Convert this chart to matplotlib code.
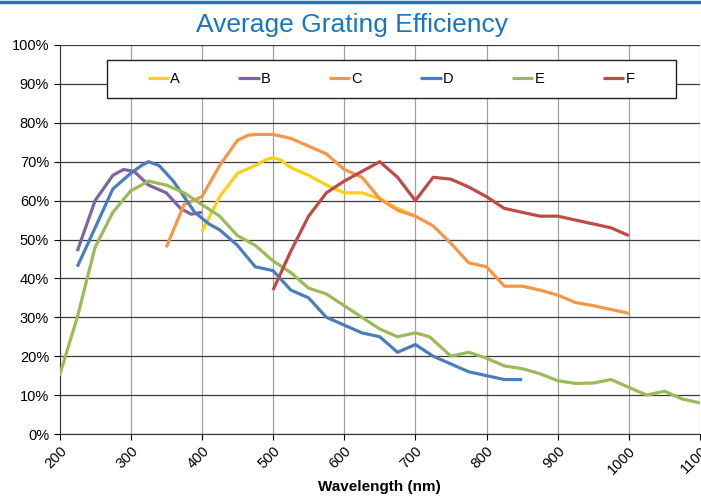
import matplotlib
matplotlib.use("Agg")
import matplotlib.pyplot as plt
from matplotlib.patches import Rectangle
from matplotlib.lines import Line2D
from matplotlib.ticker import FuncFormatter

# ---- data ----
wl_A = [400, 425, 450, 475, 490, 500, 510, 525, 550, 575, 600, 625, 650, 675, 700]
ef_A = [52, 61, 67, 69, 70.5, 71, 70.5, 68.5, 66.5, 64, 62, 62, 60.5, 58, 56]

wl_B = [225, 250, 275, 290, 305, 325, 350, 370, 385, 400]
ef_B = [47, 60, 66.5, 68, 67.5, 64, 62, 58, 56.5, 57]

wl_C = [350, 375, 400, 425, 450, 465, 475, 500, 525, 550, 575, 600, 625, 650, 675, 700,
        725, 750, 775, 800, 825, 850, 875, 900, 925, 950, 975, 1000]
ef_C = [48, 59, 61, 69, 75.5, 76.8, 77, 77, 76, 74, 72, 68, 66, 60.5, 57.5, 56,
        53.5, 49, 44, 43, 38, 38, 37, 35.7, 33.8, 33, 32, 31]

wl_D = [225, 250, 275, 300, 315, 325, 340, 360, 375, 390, 410, 425, 450, 475, 500, 525,
        550, 575, 600, 625, 650, 675, 700, 725, 750, 775, 800, 825, 850]
ef_D = [43, 53, 63, 67, 69, 70, 69, 65, 61, 57, 54, 52.5, 48.5, 43, 42, 37,
        35, 30, 28, 26, 25, 21, 23, 20, 18, 16, 15, 14, 14]

wl_E = [200, 225, 250, 275, 300, 325, 350, 375, 400, 425, 450, 475, 500, 525, 550,
        575, 600, 625, 650, 675, 700, 720, 750, 775, 800, 825, 850, 875, 900, 925,
        950, 975, 1000, 1025, 1050, 1075, 1100]
ef_E = [15, 30, 48, 57, 62.5, 65, 64, 62, 59, 56, 51, 48.5, 44.5, 41.5, 37.5,
        36, 33, 30, 27, 25, 26, 25, 20, 21, 19.5, 17.5, 16.8, 15.5, 13.7, 13,
        13.1, 14, 12, 10, 11, 9, 8]

wl_F = [500, 525, 550, 575, 600, 625, 650, 675, 700, 725, 750, 775, 800, 825, 850,
        875, 900, 925, 950, 975, 1000]
ef_F = [37, 47, 56, 62, 65, 67.5, 70, 66, 60, 66, 65.5, 63.5, 61, 58, 57,
        56, 56, 55, 54, 53, 51]

series_names = ["A", "B", "C", "D", "E", "F"]
x_ticks = [200, 300, 400, 500, 600, 700, 800, 900, 1000, 1100]
y_ticks = [0, 10, 20, 30, 40, 50, 60, 70, 80, 90, 100]

colors = ["#F7D117", "#8064A2", "#F79646", "#4A7EBB", "#9BBB59", "#BE4B48"]

plt.rcParams['font.family'] = ['Liberation Sans', 'DejaVu Sans']

fig = plt.figure(figsize=(7.01, 5.0), dpi=100)
ax = fig.add_axes([59.5/701, 66/500, 640.5/701, 389/500])

data = [(wl_A, ef_A), (wl_B, ef_B), (wl_C, ef_C), (wl_D, ef_D), (wl_E, ef_E), (wl_F, ef_F)]
for (x, y), c, n in zip(data, colors, series_names):
    ax.plot(x, y, color=c, lw=2.3, label=n, solid_capstyle='butt',
            solid_joinstyle='round', zorder=3)

ax.set_xlim(200, 1100)
ax.set_ylim(0, 100)
ax.set_xticks(x_ticks)
ax.set_yticks(y_ticks)
ax.yaxis.set_major_formatter(FuncFormatter(lambda v, p: f"{int(v)}%"))
ax.set_xticklabels([str(t) for t in x_ticks], rotation=45, ha='right', va='top',
                   rotation_mode='anchor')
ax.tick_params(axis='both', labelsize=10.5, colors='#000000', length=4, width=0.8)
ax.tick_params(axis='x', pad=3)
ax.grid(axis='y', color='#3a3a3a', lw=0.9, zorder=1)
ax.grid(axis='x', color='#a0a0a0', lw=0.9, zorder=1)
ax.set_axisbelow(True)
for s in ['top', 'right']:
    ax.spines[s].set_visible(False)
ax.spines['left'].set_color('#333333')
ax.spines['bottom'].set_color('#333333')

ax.set_xlabel("Wavelength (nm)", fontsize=11, fontweight='bold', labelpad=2)

# legend box
box = Rectangle(((107-59.5)/640.5, (434-98)/389), 569/640.5, 38/389,
                transform=ax.transAxes, facecolor='white', edgecolor='#222222',
                lw=1.0, zorder=4)
ax.add_patch(box)
leg = ax.legend(loc='center', bbox_to_anchor=((391-59.5)/640.5, (434-79)/389),
                ncol=6, frameon=False, fontsize=10.5, handlelength=1.45,
                handletextpad=0.1, columnspacing=4.0)
leg.set_zorder(5)

fig.text(352/701, 1 - 25/500, "Average Grating Efficiency", ha='center', va='center',
         fontsize=19, color='#1B75BC',
         family=['Liberation Sans', 'DejaVu Sans'])

fig.add_artist(Line2D([0, 1], [1 - 1.5/500, 1 - 1.5/500], transform=fig.transFigure,
                      color='#1B75BC', lw=2.5))

fig.savefig("out.png", dpi=100)
